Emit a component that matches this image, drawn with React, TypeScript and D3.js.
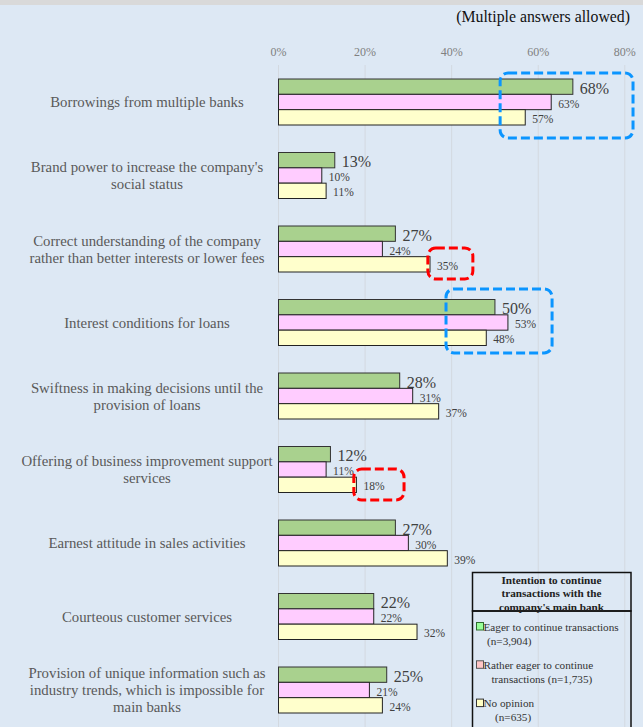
import React from "react";
import * as d3 from "d3";

const categories: string[][] = [
  ["Borrowings from multiple banks"],
  ["Brand power to increase the company's", "social status"],
  ["Correct understanding of the company", "rather than better interests or lower fees"],
  ["Interest conditions for loans"],
  ["Swiftness in making decisions until the", "provision of loans"],
  ["Offering of business improvement support", "services"],
  ["Earnest attitude in sales activities"],
  ["Courteous customer services"],
  ["Provision of unique information such as", "industry trends, which is impossible for", "main banks"],
];

const eager = [68, 13, 27, 50, 28, 12, 27, 22, 25];
const ratherEager = [63, 10, 24, 53, 31, 11, 30, 22, 21];
const noOpinion = [57, 11, 35, 48, 37, 18, 39, 32, 24];

const seriesNames = ["eager", "rather", "none"];
const ticks = [0, 20, 40, 60, 80];

const legendTitle = ["Intention to continue", "transactions with the", "company's main bank"];
const legendItems = [
  ["Eager to continue transactions", "(n=3,904)"],
  ["Rather eager to continue", "transactions (n=1,735)"],
  ["No opinion", "(n=635)"],
];

// annotation boxes: row index, value range, colour
const highlights = [
  { row: 0, from: 51.2, to: 81.9, top: 5, bottom: 70, color: "#0b95ff" },
  { row: 3, from: 38.7, to: 63.2, top: 0.5, bottom: 64.5, color: "#0b95ff" },
  { row: 2, from: 34.5, to: 44.9, top: 33, bottom: 64, color: "#ff0000" },
  { row: 5, from: 17.4, to: 29, top: 33.5, bottom: 64.5, color: "#ff0000" },
];

const W = 643;
const H = 727;
const FONT = "'Liberation Serif', 'Times New Roman', serif";

export default function App() {
  const x = d3.scaleLinear().domain([0, 80]).range([278.5, 624.8]);
  const idx = categories.map((_, i) => String(i));
  const y = d3.scaleBand<string>().domain(idx).range([68, 68 + 9 * 73.5]).padding(0);
  const inner = d3.scaleBand<string>().domain(seriesNames).range([11, 57]).padding(0);

  const data = [eager, ratherEager, noOpinion];
  const fills = ["#a9d18e", "#ffccff", "#ffffcc"];
  const strokes = ["#333", "#222", "#222"];
  const legendFills = ["#99ff99", "#ffc6c6", "#ffffc4"];
  const legendStrokes = ["#2e6b2e", "#555", "#333"];

  return (
    <svg
      width={W}
      height={H}
      style={{ position: "absolute", left: 0, top: 0, background: "#dde8f4", fontFamily: FONT }}
    >
      <rect x={0} y={0} width={W} height={5} fill="#d9d9d9" />
      <text x={630} y={22} textAnchor="end" fontSize={15.8} fill="#111">
        (Multiple answers allowed)
      </text>

      {ticks.map((t) => (
        <g key={t}>
          <line x1={x(t)} x2={x(t)} y1={65} y2={H} stroke="#d3d9e0" strokeWidth={1} />
          <text x={x(t)} y={56} textAnchor="middle" fontSize={12} fill="#808080">
            {t}%
          </text>
        </g>
      ))}

      {categories.map((lines, i) => {
        const cy = (y(String(i)) as number) + 34;
        const lh = 17;
        const start = cy - ((lines.length - 1) * lh) / 2;
        return (
          <text key={i} textAnchor="middle" fontSize={14.8} fill="#595959">
            {lines.map((l, j) => (
              <tspan key={j} x={147} y={start + j * lh} dominantBaseline="central">
                {l}
              </tspan>
            ))}
          </text>
        );
      })}

      {categories.map((_, i) => {
        const by = y(String(i)) as number;
        return (
          <g key={i}>
            {data.map((arr, s) => {
              const yy = by + (inner(seriesNames[s]) as number);
              const bh = inner.bandwidth();
              const v = arr[i];
              return (
                <g key={s}>
                  <rect
                    x={x(0)}
                    y={yy}
                    width={x(v) - x(0)}
                    height={bh}
                    fill={fills[s]}
                    stroke={strokes[s]}
                    strokeWidth={1}
                  />
                  <text
                    x={x(v) + 7}
                    y={yy + bh / 2 + 1.5}
                    dominantBaseline="central"
                    fontSize={s === 0 ? 16 : 11.5}
                    fill="#404040"
                  >
                    {v}%
                  </text>
                </g>
              );
            })}
          </g>
        );
      })}

      {highlights.map((h, i) => {
        const by = y(String(h.row)) as number;
        return (
          <rect
            key={i}
            x={x(h.from)}
            y={by + h.top}
            width={x(h.to) - x(h.from)}
            height={h.bottom - h.top}
            rx={8}
            ry={8}
            fill="none"
            stroke={h.color}
            strokeWidth={3}
            strokeDasharray="9 4"
          />
        );
      })}

      <g>
        <rect x={472.5} y={572.5} width={158.5} height={38.5} fill="none" stroke="#111" strokeWidth={1.5} />
        <rect x={472.5} y={611} width={158.5} height={130} fill="none" stroke="#111" strokeWidth={1.5} />
        {legendTitle.map((t, i) => (
          <text
            key={i}
            x={551.5}
            y={580 + i * 13.3}
            textAnchor="middle"
            dominantBaseline="central"
            fontSize={11.2}
            fontWeight="bold"
            fill="#222"
          >
            {t}
          </text>
        ))}
        {legendItems.map((it, i) => {
          const top = 622.5 + i * 38.3;
          const indents = [487, 491.5, 495];
          return (
            <g key={i}>
              <rect
                x={476.5}
                y={top}
                width={7}
                height={7.5}
                fill={legendFills[i]}
                stroke={legendStrokes[i]}
                strokeWidth={1}
              />
              <text x={483.5} y={top + 4} dominantBaseline="central" fontSize={11.2} fill="#333">
                {it[0]}
              </text>
              <text x={indents[i]} y={top + 18} dominantBaseline="central" fontSize={11.2} fill="#333">
                {it[1]}
              </text>
            </g>
          );
        })}
      </g>
    </svg>
  );
}
